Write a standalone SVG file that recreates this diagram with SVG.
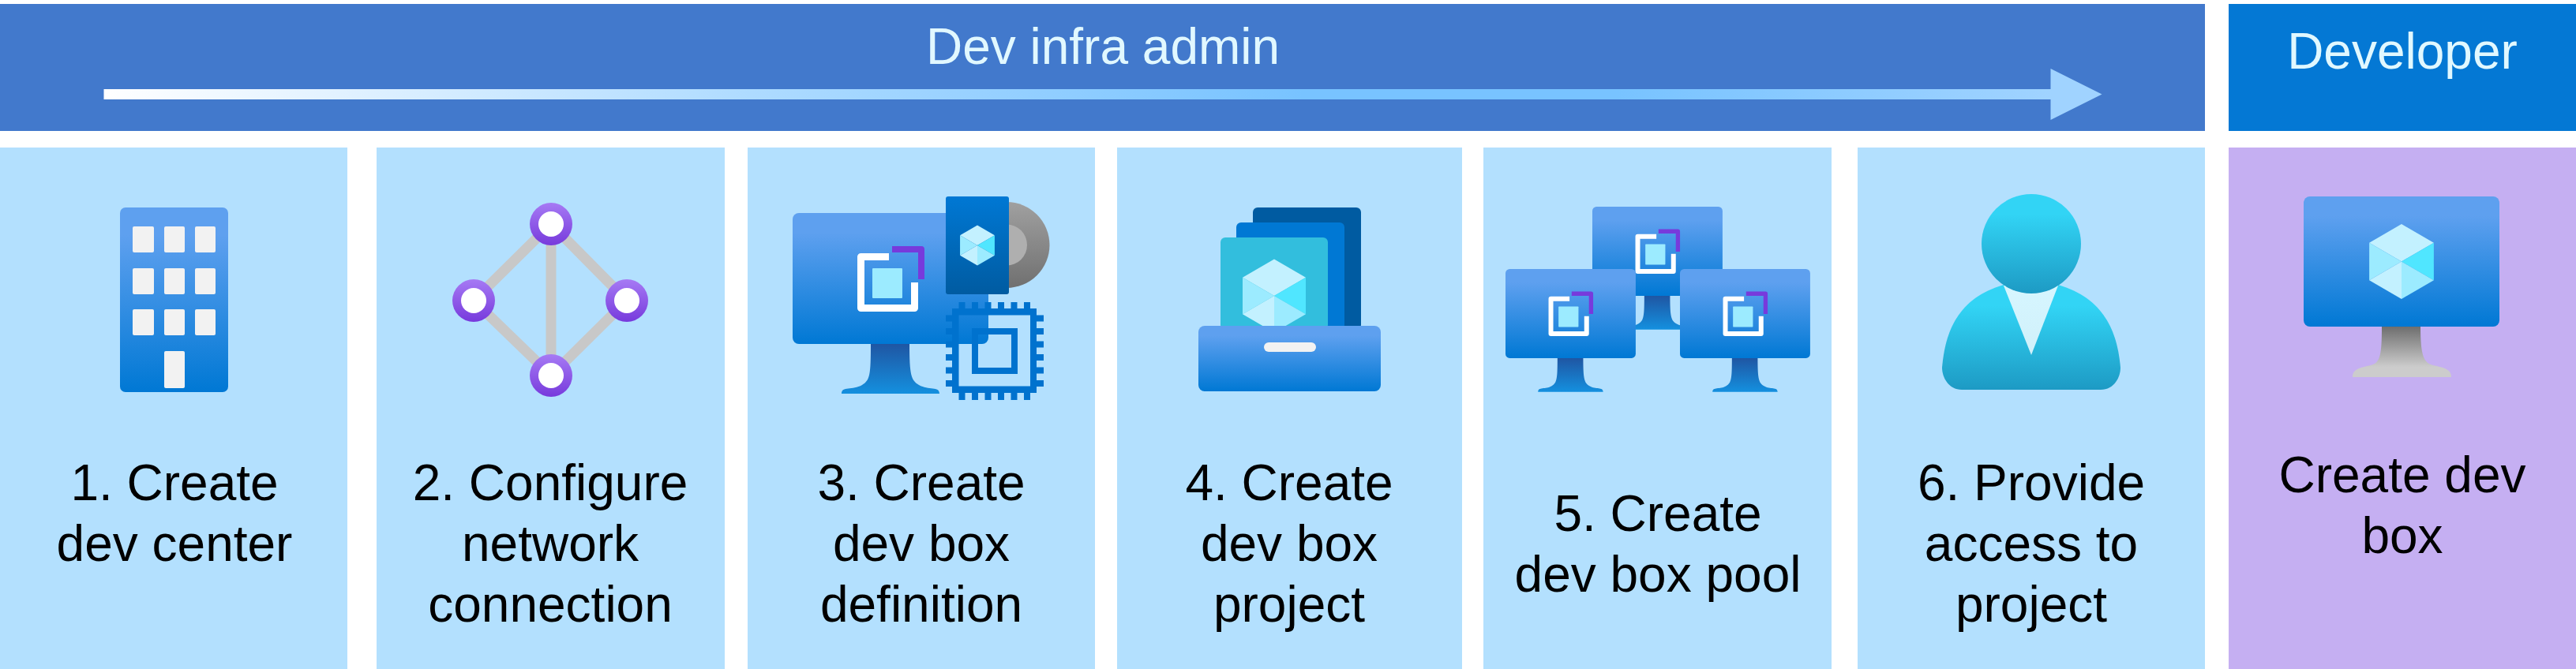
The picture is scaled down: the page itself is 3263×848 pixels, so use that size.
<svg xmlns="http://www.w3.org/2000/svg" width="3263" height="848" viewBox="0 0 3263 848">
<style>
text{font-family:"Liberation Sans",Arial,sans-serif;font-size:64px;text-anchor:middle;fill:#000}
.hd{fill:#E1F8FF}
.card{fill:#B3E0FE}
.win{fill:#F2F2F2}
.edge{stroke:#C8C8C8;stroke-width:13;fill:none}
.cu1{fill:#C3F1FF}.cu2{fill:#9CEBFF}.cu3{fill:#50E6FF}
</style>
<defs>
<linearGradient id="gBlue" x1="0" y1="0" x2="0" y2="1"><stop offset="0.15" stop-color="#5EA0EF"/><stop offset="1" stop-color="#0078D4"/></linearGradient>
<linearGradient id="gStand" x1="0" y1="0" x2="0" y2="1"><stop offset="0" stop-color="#1F56A3"/><stop offset="1" stop-color="#1490DF"/></linearGradient>
<linearGradient id="gGray" x1="0" y1="0" x2="0" y2="1"><stop offset="0" stop-color="#6E6E6E"/><stop offset="0.8" stop-color="#CCCCCC"/></linearGradient>
<linearGradient id="gPurple" x1="0" y1="0" x2="0" y2="1"><stop offset="0" stop-color="#A67AF4"/><stop offset="1" stop-color="#773ADC"/></linearGradient>
<linearGradient id="gDisc" x1="0" y1="0" x2="0" y2="1"><stop offset="0" stop-color="#A0A0A0"/><stop offset="1" stop-color="#707070"/></linearGradient>
<linearGradient id="gCard" x1="0" y1="0" x2="0" y2="1"><stop offset="0" stop-color="#0078D4"/><stop offset="1" stop-color="#005BA1"/></linearGradient>
<linearGradient id="gCyan" x1="0" y1="0" x2="0" y2="1"><stop offset="0.2" stop-color="#32D4F5"/><stop offset="1" stop-color="#1D9AC4"/></linearGradient>
<linearGradient id="gCollar" x1="0" y1="0" x2="0" y2="1"><stop offset="0" stop-color="#D6F6FF"/><stop offset="1" stop-color="#D0F0FA"/></linearGradient>
<linearGradient id="gArrow" gradientUnits="userSpaceOnUse" x1="131" y1="0" x2="2600" y2="0"><stop offset="0" stop-color="#FFFFFF"/><stop offset="0.332" stop-color="#AEDBFF"/><stop offset="0.615" stop-color="#78C3FF"/><stop offset="0.777" stop-color="#78C3FF"/><stop offset="1" stop-color="#A0D3FF"/></linearGradient>
<g id="cube">
<path class="cu1" d="M0 -50 43 -25 0 0 -43 -25Z"/>
<path class="cu3" d="M43 -25V25L0 0Z"/>
<path class="cu2" d="M-43 -25 0 0 -43 25Z"/>
<path class="cu1" d="M-43 25 0 0V50Z"/>
<path class="cu2" d="M43 25 0 0V50Z"/>
</g>
<g id="vm">
<path fill="url(#gStand)" d="M99 166H148C148 205 150 212 160 218C172 225 186 219 186 229H62C62 219 76 225 88 218C98 212 99 205 99 166Z"/>
<rect width="248" height="166" rx="8" fill="url(#gBlue)"/>
<path fill="none" stroke="#fff" stroke-width="9" stroke-linejoin="round" d="M122 55.500H86.500V120.500H154.500V88"/>
<path fill="none" stroke="#773ADC" stroke-width="8" stroke-linejoin="round" d="M126 46H163V84"/>
<rect x="101" y="70" width="38" height="38" rx="1" fill="#9CEBFF"/>
</g>
</defs>

<g id="header-admin">
<rect x="0" y="5" width="2793" height="161" fill="#4279CC"/>
<text class="hd" x="1397" y="81">Dev infra admin</text>
</g>
<g id="header-developer">
<rect x="2823" y="5" width="440" height="161" fill="#0478D4"/>
<text class="hd" x="3043" y="87">Developer</text>
</g>

<g id="connectors">
<path fill="url(#gArrow)" d="M131.500 113H2597.500V87L2662.500 119.500 2597.500 152V126H131.500Z"/>
</g>

<g id="step-1">
<rect class="card" x="0" y="187" width="440" height="661"/>
<rect x="152" y="263" width="137" height="234" rx="7" fill="url(#gBlue)"/>
<g class="win">
<rect x="168" y="287" width="27" height="33" rx="2"/><rect x="208" y="287" width="26" height="33" rx="2"/><rect x="247" y="287" width="26" height="33" rx="2"/>
<rect x="168" y="340" width="27" height="33" rx="2"/><rect x="208" y="340" width="26" height="33" rx="2"/><rect x="247" y="340" width="26" height="33" rx="2"/>
<rect x="168" y="392" width="27" height="33" rx="2"/><rect x="208" y="392" width="26" height="33" rx="2"/><rect x="247" y="392" width="26" height="33" rx="2"/>
<rect x="208" y="445" width="26" height="47" rx="2"/>
</g>
<text x="221" y="634">1. Create</text>
<text x="221" y="711">dev center</text>
</g>

<g id="step-2">
<rect class="card" x="477" y="187" width="441" height="661"/>
<path class="edge" d="M698 284V476M698 284 600 381 698 476 794 381Z"/>
<g fill="url(#gPurple)"><circle cx="698" cy="284" r="27"/><circle cx="600" cy="381" r="27"/><circle cx="794" cy="381" r="27"/><circle cx="698" cy="476" r="27"/></g>
<g fill="#fff"><circle cx="698" cy="284" r="16"/><circle cx="600" cy="381" r="16"/><circle cx="794" cy="381" r="16"/><circle cx="698" cy="476" r="16"/></g>
<text x="697" y="634">2. Configure</text>
<text x="697" y="711">network</text>
<text x="697" y="788">connection</text>
</g>

<g id="step-3">
<rect class="card" x="947" y="187" width="440" height="661"/>
<use href="#vm" x="1004" y="270"/>
<circle cx="1275" cy="310.500" r="54.500" fill="url(#gDisc)"/>
<circle cx="1275" cy="310.500" r="26" fill="#AFAFAF"/>
<rect x="1198" y="249" width="80" height="124" rx="3" fill="url(#gCard)"/>
<use href="#cube" transform="translate(1238 311) scale(.51)"/>
<g fill="#0072CE">
<path fill-rule="evenodd" d="M1206 391H1313V498H1206ZM1214.500 399.500V489.500H1305V399.500Z"/>
<path fill-rule="evenodd" d="M1231 416H1289V474H1231ZM1239 424V466H1281V424Z"/>
<path d="M1214.500 383h8v8h-8zM1231 383h8v8h-8zM1247.500 383h8v8h-8zM1264 383h8v8h-8zM1280.500 383h8v8h-8zM1297 383h8v8h-8zM1214.500 498h8v9h-8zM1231 498h8v9h-8zM1247.500 498h8v9h-8zM1264 498h8v9h-8zM1280.500 498h8v9h-8zM1297 498h8v9h-8zM1198 399.500h8v8h-8zM1198 416h8v8h-8zM1198 432.500h8v8h-8zM1198 449h8v8h-8zM1198 465.500h8v8h-8zM1198 482h8v8h-8zM1313 399.500h9v8h-9zM1313 416h9v8h-9zM1313 432.500h9v8h-9zM1313 449h9v8h-9zM1313 465.500h9v8h-9zM1313 482h9v8h-9z"/>
</g>
<text x="1167" y="634">3. Create</text>
<text x="1167" y="711">dev box</text>
<text x="1167" y="788">definition</text>
</g>

<g id="step-4">
<rect class="card" x="1415" y="187" width="437" height="661"/>
<rect x="1587" y="263" width="137" height="155" rx="6" fill="#005BA1"/>
<rect x="1566" y="282" width="137" height="136" rx="6" fill="#0078D4"/>
<rect x="1546" y="301" width="136" height="117" rx="6" fill="#32BEDD"/>
<use href="#cube" transform="translate(1614 375) scale(.93)"/>
<rect x="1518" y="413" width="231" height="83" rx="8" fill="url(#gBlue)"/>
<rect x="1601" y="434" width="66" height="12" rx="6" fill="#F2F2F2"/>
<text x="1633" y="634">4. Create</text>
<text x="1633" y="711">dev box</text>
<text x="1633" y="788">project</text>
</g>

<g id="step-5">
<rect class="card" x="1879" y="187" width="441" height="661"/>
<use href="#vm" transform="translate(2017 262) scale(.665 .68)"/>
<use href="#vm" transform="translate(1907 341) scale(.665 .68)"/>
<use href="#vm" transform="translate(2128 341) scale(.665 .68)"/>
<text x="2100" y="673">5. Create</text>
<text x="2100" y="750">dev box pool</text>
</g>

<g id="step-6">
<rect class="card" x="2353" y="187" width="440" height="661"/>
<path fill="url(#gCyan)" d="M2485 494C2468 494 2460 478 2460 466C2464 420 2480 378 2538 361H2607C2665 378 2682 420 2686 466C2686 478 2678 494 2661 494Z"/>
<path fill="url(#gCollar)" d="M2538 362H2607L2573 450Z"/>
<circle cx="2573" cy="309" r="63" fill="url(#gCyan)"/>
<text x="2573" y="634">6. Provide</text>
<text x="2573" y="711">access to</text>
<text x="2573" y="788">project</text>
</g>

<g id="developer-box">
<rect x="2823" y="187" width="440" height="661" fill="#C5AFF2"/>
<path fill="url(#gGray)" d="M3017 414H3066C3066 450 3070 460 3082 463C3096 466 3105 468 3105 478H2980C2980 468 2989 466 3003 463C3015 460 3017 450 3017 414Z"/>
<rect x="2918" y="249" width="248" height="165" rx="8" fill="url(#gBlue)"/>
<use href="#cube" transform="translate(3042 331.500) scale(.95)"/>
<text x="3043" y="624">Create dev</text>
<text x="3043" y="701">box</text>
</g>
</svg>
